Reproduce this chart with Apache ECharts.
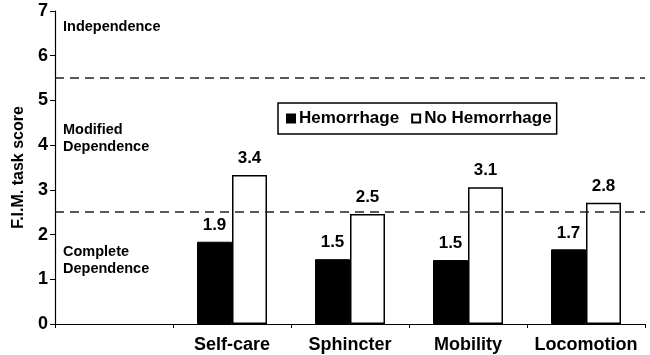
<!DOCTYPE html>
<html>
<head>
<meta charset="utf-8">
<script src="https://cdn.jsdelivr.net/npm/echarts@6/dist/echarts.min.js"></script>
<style>
  html, body { margin: 0; padding: 0; background: #fff; }
  #chart { width: 650px; height: 355px; }
</style>
</head>
<body>
<div id="chart"></div>
<script>
const categories = ['', 'Self-care', 'Sphincter', 'Mobility', 'Locomotion'];
const hemorrhage = ['-', 1.84, 1.45, 1.43, 1.67];
const noHemorrhage = ['-', 3.33, 2.46, 3.06, 2.71];
const hemorrhageLabels = ['', '1.9', '1.5', '1.5', '1.7'];
const noHemorrhageLabels = ['', '3.4', '2.5', '3.1', '2.8'];
const thresholds = [5.5, 2.5];

const font = 'Liberation Sans, Arial, sans-serif';

const chart = echarts.init(document.getElementById('chart'));

const labelFor = (labels) => ({
  show: true,
  position: 'top',
  distance: 8,
  color: '#000',
  fontFamily: font,
  fontWeight: 'bold',
  fontSize: 17,
  formatter: (p) => labels[p.dataIndex]
});

const regionText = (x, y, text) => ({
  type: 'text',
  left: x,
  top: y,
  style: {
    text: text,
    fill: '#000',
    font: 'bold 14.5px ' + font,
    lineHeight: 17
  }
});

chart.setOption({
  animation: false,
  grid: { left: 55, right: 5, top: 11, bottom: 31 },
  legend: {
    data: ['Hemorrhage', 'No Hemorrhage'],
    left: 278,
    top: 103,
    height: 34,
    padding: [7, 5, 7, 8],
    itemGap: 12,
    itemWidth: 8,
    itemHeight: 8,
    borderColor: '#000',
    borderWidth: 1.5,
    icon: 'rect',
    textStyle: { color: '#000', fontFamily: font, fontWeight: 'bold', fontSize: 17, padding: [0, 0, 0, -1] }
  },
  xAxis: {
    type: 'category',
    data: categories,
    axisLine: { lineStyle: { color: '#000', width: 1.2 } },
    axisTick: { show: true, interval: 0, length: 4, lineStyle: { color: '#000' } },
    axisLabel: { interval: 0, color: '#000', fontFamily: font, fontWeight: 'bold', fontSize: 18, margin: 12 }
  },
  yAxis: {
    type: 'value',
    min: 0,
    max: 7,
    interval: 1,
    name: 'F.I.M. task score',
    nameLocation: 'middle',
    nameGap: 27,
    nameTextStyle: { color: '#000', fontFamily: font, fontWeight: 'bold', fontSize: 16 },
    axisLine: { show: true, lineStyle: { color: '#000', width: 1.2 } },
    axisTick: { show: true, length: 5, lineStyle: { color: '#000' } },
    axisLabel: { color: '#000', fontFamily: font, fontWeight: 'bold', fontSize: 18, margin: 7 },
    splitLine: { show: false }
  },
  series: [
    {
      name: 'Hemorrhage',
      type: 'bar',
      data: hemorrhage,
      barWidth: 35,
      barGap: '0%',
      itemStyle: { color: '#000', borderColor: '#000', borderWidth: 1 },
      label: labelFor(hemorrhageLabels),
      markLine: {
        silent: true,
        symbol: 'none',
        label: { show: false },
        lineStyle: { color: '#222', type: [9, 6], width: 1.5 },
        data: thresholds.map((v) => ({ yAxis: v }))
      }
    },
    {
      name: 'No Hemorrhage',
      type: 'bar',
      data: noHemorrhage,
      barWidth: 35,
      itemStyle: { color: '#fff', borderColor: '#000', borderWidth: 1.5 },
      label: labelFor(noHemorrhageLabels)
    }
  ],
  graphic: [
    regionText(63, 18, 'Independence'),
    regionText(63, 121, 'Modified\nDependence'),
    regionText(63, 243, 'Complete\nDependence')
  ]
});
</script>
</body>
</html>
